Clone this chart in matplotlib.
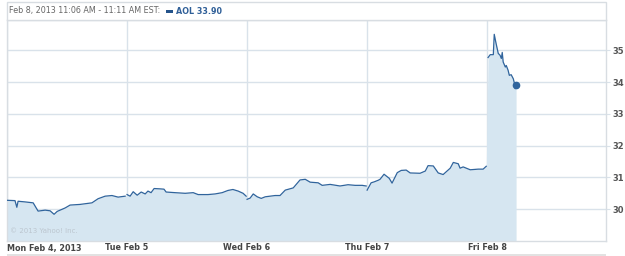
import numpy as np
import matplotlib
matplotlib.use("Agg")
import matplotlib.pyplot as plt
from matplotlib.patches import Rectangle

# one list per trading session: minutes after the open, price
days = ["Mon Feb 4, 2013", "Tue Feb 5", "Wed Feb 6", "Thu Feb 7", "Fri Feb 8"]

mon_min = [0, 26, 32, 36, 58, 85, 101, 124, 140, 153, 163, 189, 205, 237, 276, 296, 319, 341, 361, 384]
mon_px = [30.28, 30.27, 30.06, 30.25, 30.23, 30.20, 29.94, 29.97, 29.95, 29.84, 29.93, 30.04, 30.13,
          30.15, 30.20, 30.33, 30.41, 30.43, 30.38, 30.41]

tue_min = [0, 10, 20, 33, 46, 59, 68, 78, 88, 107, 120, 127, 156, 189, 215, 231, 263, 286, 309,
           328, 344, 361, 377, 387]
tue_px = [30.46, 30.41, 30.55, 30.44, 30.54, 30.48, 30.57, 30.52, 30.65, 30.64, 30.63, 30.54,
          30.52, 30.50, 30.52, 30.46, 30.46, 30.48, 30.52, 30.59, 30.62, 30.57, 30.50, 30.41]

wed_min = [0, 10, 20, 33, 46, 59, 91, 107, 124, 150, 172, 189, 205, 231, 244, 270, 302, 328, 351, 374, 387]
wed_px = [30.31, 30.35, 30.48, 30.39, 30.34, 30.39, 30.43, 30.43, 30.60, 30.67, 30.92, 30.94,
          30.85, 30.83, 30.75, 30.78, 30.73, 30.77, 30.75, 30.75, 30.73]

thu_min = [0, 13, 23, 36, 42, 55, 72, 81, 98, 111, 127, 140, 172, 189, 198, 215, 231, 247, 270,
           280, 296, 302, 312, 335, 361, 377, 387]
thu_px = [30.60, 30.83, 30.86, 30.91, 30.94, 31.10, 30.97, 30.82, 31.15, 31.22, 31.23, 31.14,
          31.13, 31.20, 31.37, 31.36, 31.14, 31.09, 31.29, 31.47, 31.43, 31.29, 31.33, 31.24,
          31.26, 31.26, 31.35]

fri_min = [3, 10, 20, 23, 29, 36, 42, 46, 49, 52, 59, 62, 68, 72, 78, 85, 88, 91, 94]
fri_px = [34.77, 34.86, 34.86, 35.50, 35.21, 34.90, 34.84, 34.74, 34.93, 34.63, 34.47, 34.52,
          34.37, 34.21, 34.23, 34.10, 33.98, 33.79, 33.90]

sessions = [(mon_min, mon_px), (tue_min, tue_px), (wed_min, wed_px), (thu_min, thu_px), (fri_min, fri_px)]
y_ticks = [30, 31, 32, 33, 34, 35]
header = "Feb 8, 2013 11:06 AM - 11:11 AM EST:"
quote = "AOL 33.90"

W, H = 625, 256
line_c = "#30649c"
fill_c = "#d6e6f1"
grid_c = "#d9e2ea"
text_c = "#555555"

fig = plt.figure(figsize=(W / 100, H / 100), dpi=100)
fig.patch.set_facecolor("white")

def fx(px):
    return px / W

def fy(py):
    return 1 - py / H

left, right, top, bottom = 7, 606, 20, 241
ax = fig.add_axes([fx(left), fy(bottom), fx(right - left), (bottom - top) / H])

xs_all, ys_all = [], []
for i, (m, p) in enumerate(sessions):
    x = i + np.array(m) / 390.0
    ax.plot(x, p, color=line_c, lw=0.9, zorder=3)
    xs_all.extend(x)
    ys_all.extend(p)
    if i == len(sessions) - 1:
        ax.plot(x[-1], p[-1], "o", color=line_c, ms=4.5, zorder=4)

ax.fill_between(xs_all, ys_all, 28, color=fill_c, lw=0, zorder=1)

ax.set_xlim(0, 4.99)
ax.set_ylim(29.0, 35.95)
ax.set_xticks(range(len(days)))
ax.set_xticklabels([])
ax.tick_params(axis="x", length=0)
ax.grid(True, color=grid_c, lw=1.0, zorder=0)
ax.set_axisbelow(True)

ax.yaxis.tick_right()
ax.set_yticks(y_ticks)
ax.set_yticklabels([str(t) for t in y_ticks], fontsize=6, color=text_c, fontweight="bold")
ax.tick_params(axis="y", length=3, color=grid_c, pad=2)

for s in ax.spines.values():
    s.set_color("#d8dde2")
    s.set_linewidth(1.0)

# day labels under the axis
label_y = fy(248)
for i, d in enumerate(days):
    xpx = left + i * 120
    ha = "left" if i == 0 else "center"
    fig.text(fx(xpx), label_y, d, ha=ha, va="center", fontsize=5.8,
             fontweight="bold", color="#444444")

ax.text(0.005, 0.03, "\u00a9 2013 Yahoo! Inc.", transform=ax.transAxes, fontsize=5,
        color="#bcc6cf", ha="left", va="bottom")

# header bar
fig.patches.append(Rectangle((fx(left), fy(top)), fx(right - left), (top - 2) / H,
                             transform=fig.transFigure, facecolor="white",
                             edgecolor="#d8dde2", lw=1.0))
fig.text(fx(9), fy(11), header, fontsize=5.8, color="#666666", va="center", ha="left")
fig.patches.append(Rectangle((fx(166), fy(12.5)), fx(7), 3 / H, transform=fig.transFigure,
                             facecolor="#24538a", edgecolor="none"))
fig.text(fx(176), fy(11), quote, fontsize=5.8, color="#2f5f98", va="center", ha="left",
         fontweight="bold")

# bottom rule
fig.patches.append(Rectangle((fx(left), 0), fx(right - left), 2 / H, transform=fig.transFigure,
                             facecolor="#e2e2e2", edgecolor="none"))

fig.savefig("out.png", dpi=100)
